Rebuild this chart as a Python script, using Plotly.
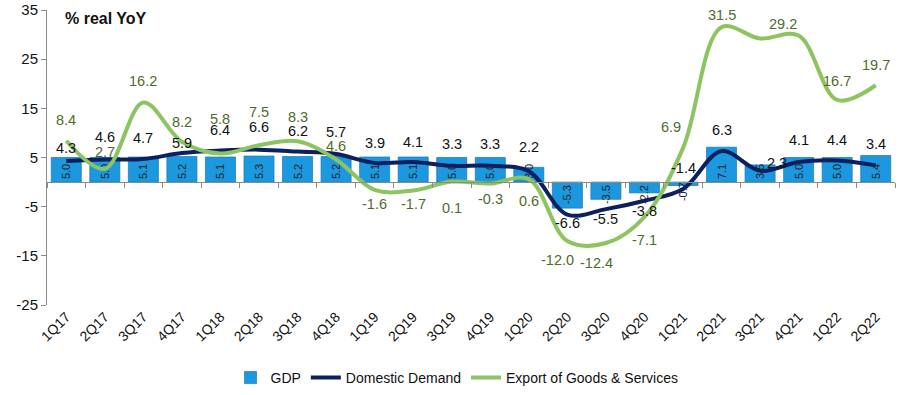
import plotly.graph_objects as go

quarters = ["1Q17", "2Q17", "3Q17", "4Q17", "1Q18", "2Q18", "3Q18", "4Q18",
            "1Q19", "2Q19", "3Q19", "4Q19", "1Q20", "2Q20", "3Q20", "4Q20",
            "1Q21", "2Q21", "3Q21", "4Q21", "1Q22", "2Q22"]
gdp = [5.0, 5.0, 5.1, 5.2, 5.1, 5.3, 5.2, 5.2, 5.1, 5.1, 5.0, 5.0, 3.0,
       -5.3, -3.5, -2.2, -0.7, 7.1, 3.5, 5.0, 5.0, 5.4]
domestic = [4.3, 4.6, 4.7, 5.9, 6.4, 6.6, 6.2, 5.7, 3.9, 4.1, 3.3, 3.3, 2.2,
            -6.6, -5.5, -3.8, -1.4, 6.3, 2.3, 4.1, 4.4, 3.4]
exports = [8.4, 2.7, 16.2, 8.2, 5.8, 7.5, 8.3, 4.6, -1.6, -1.7, 0.1, -0.3, 0.6,
           -12.0, -12.4, -7.1, 6.9, 31.5, 29.2, 29.8, 16.7, 19.7]
y_ticks = [-25, -15, -5, 5, 15, 25, 35]

# label placement (pixels) - style only
dd_yshift = [13, 22, 21, 10, 21, 23, 21, 22, 20, 20, 22, 22, 24, -8, -10, -10,
             21, 21, 8, 22, 20, 21]
dd_xshift = [0] * 22
dd_xshift[18] = 17
ex_yshift = [21, 17, 21, 20, 35, 33, 24, 13, -14, -14, -26, -15, -22, -19, -20,
             -23, 21, 12, 15, None, 19, 20]
ex_xshift = [0] * 22
ex_xshift[13] = -10
ex_xshift[14] = -9
ex_xshift[16] = -12
ex_xshift[18] = 23

Y_MIN, Y_MAX = -25, 35
FONT = "Arial, Liberation Sans, sans-serif"
BAR_C = "#1C98DE"
DD_C = "#0C1F5E"
EX_C = "#8CC462"
EX_TXT = "#4F6B2A"

fig = go.Figure()
fig.add_trace(go.Bar(
    x=quarters, y=gdp, name="GDP", xaxis="x", yaxis="y",
    marker=dict(color=BAR_C, line=dict(color="#1577B8", width=0.7)),
    texttemplate="%{y:.1f}", textposition="inside", insidetextanchor="start",
    textangle=-90, constraintext="none",
    textfont=dict(size=11, color="#222222", family=FONT),
    hoverinfo="skip"))
fig.add_trace(go.Scatter(
    x=quarters, y=domestic, name="Domestic Demand", mode="lines",
    xaxis="x2", yaxis="y",
    line=dict(color=DD_C, width=4, shape="spline", smoothing=1.0),
    hoverinfo="skip"))
fig.add_trace(go.Scatter(
    x=quarters, y=exports, name="Export of Goods & Services", mode="lines",
    xaxis="x2", yaxis="y",
    line=dict(color=EX_C, width=4, shape="spline", smoothing=1.0),
    hoverinfo="skip"))

annotations = []
for q, v, dy, dx in zip(quarters, domestic, dd_yshift, dd_xshift):
    annotations.append(dict(x=q, y=v, xref="x2", yref="y", text=f"{v:.1f}",
                            showarrow=False, yshift=dy, xshift=dx,
                            font=dict(size=14.5, color="#111111", family=FONT)))
for q, v, dy, dx in zip(quarters, exports, ex_yshift, ex_xshift):
    if dy is None:
        continue
    annotations.append(dict(x=q, y=v, xref="x2", yref="y", text=f"{v:.1f}",
                            showarrow=False, yshift=dy, xshift=dx,
                            font=dict(size=14.5, color=EX_TXT, family=FONT)))
annotations.append(dict(x=0.019, y=0.971, xref="paper", yref="paper",
                        xanchor="left", yanchor="middle", showarrow=False,
                        text="<b>% real YoY</b>",
                        font=dict(size=16, color="#111111", family=FONT)))

zero_pos = (0 - Y_MIN) / (Y_MAX - Y_MIN)

fig.update_layout(
    width=900, height=395,
    margin=dict(l=47, r=5, t=10, b=90, autoexpand=False),
    paper_bgcolor="white", plot_bgcolor="white",
    font=dict(family=FONT, color="#111111"),
    bargap=0.22,
    annotations=annotations,
    xaxis=dict(type="category", range=[-0.5, len(quarters) - 0.5],
               showline=False, ticks="", tickangle=-45, automargin=False,
               tickfont=dict(size=14, color="#111111"), showgrid=False,
               zeroline=False),
    xaxis2=dict(type="category", overlaying="x", anchor="free",
                position=zero_pos, side="bottom", automargin=False,
                range=[-0.5, len(quarters) - 0.5],
                showline=True, linecolor="#8a8a8a", linewidth=1,
                ticks="outside", tickson="boundaries", ticklen=5,
                tickcolor="#8a8a8a", showticklabels=False, showgrid=False,
                zeroline=False),
    yaxis=dict(range=[Y_MIN, Y_MAX], tickvals=y_ticks,
               ticktext=[str(t) for t in y_ticks], automargin=False,
               showline=True, linecolor="#8a8a8a", linewidth=1,
               ticks="outside", ticklen=5, tickcolor="#8a8a8a",
               showgrid=False, zeroline=False, ticklabeloverflow="allow",
               tickfont=dict(size=15, color="#111111")),
    legend=dict(orientation="h", x=0.4835, xanchor="center",
                yref="container", y=0.043, yanchor="middle",
                font=dict(size=14, color="#111111"),
                bgcolor="rgba(0,0,0,0)"),
)

# remove the browser's default 8px body margin so the figure fills the window
fig.write_html("out.html",
               config={"displayModeBar": False},
               post_script="document.body.style.margin='0px';")
